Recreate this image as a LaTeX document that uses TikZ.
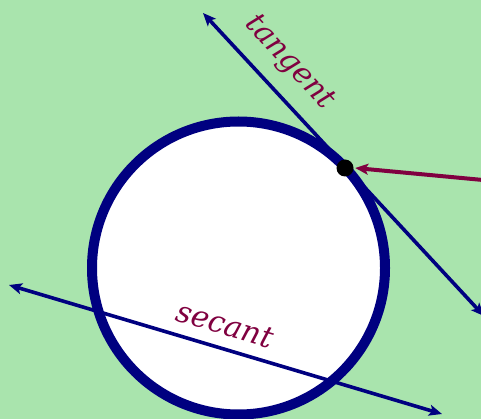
\documentclass[tikz,border=0pt]{standalone}
\usepackage{fontspec}
\setmainfont{DejaVu Serif}
\usetikzlibrary{arrows.meta}
\definecolor{bg}{RGB}{169,228,173}
\definecolor{navy}{RGB}{0,0,128}
\definecolor{plum}{RGB}{128,0,64}
\begin{document}
\begin{tikzpicture}[x=1pt,y=-1pt,
  ln/.style={draw=navy,line width=3.6pt,{Stealth[length=13pt,width=11pt,inset=3pt]}-{Stealth[length=13pt,width=11pt,inset=3pt]}},
  lab/.style={text=plum,font=\fontsize{30}{30}\selectfont\itshape,inner sep=0pt}]
\fill[bg] (0,0) rectangle (481,419);
\useasboundingbox (0,0) rectangle (481,419);
\node[circle,draw=navy,line width=10pt,fill=white,minimum size=293pt,inner sep=0pt] (C) at (238.5,268) {};
\coordinate (T) at (345,168);
\coordinate (ta) at (203,13);
\coordinate (tb) at (484,316);
\coordinate (sa) at (9,285);
\coordinate (sb) at (442,414);
\coordinate (pa) at (483,180);
\draw[ln] (ta) -- (tb);
\draw[ln] (sa) -- (sb);
\fill[black] (T) circle (8.5pt);
\node[circle,inner sep=0pt,minimum size=20pt] (Tn) at (T) {};
\draw[plum,line width=4pt,-{Stealth[length=13pt,width=11pt,inset=3pt]}] (pa) -- (Tn.east);
\node[lab,rotate=-47.2] (tl) at (289,63) {tangent};
\node[lab,rotate=-16.6] (sl) at (225,325) {secant};
\end{tikzpicture}
\end{document}
